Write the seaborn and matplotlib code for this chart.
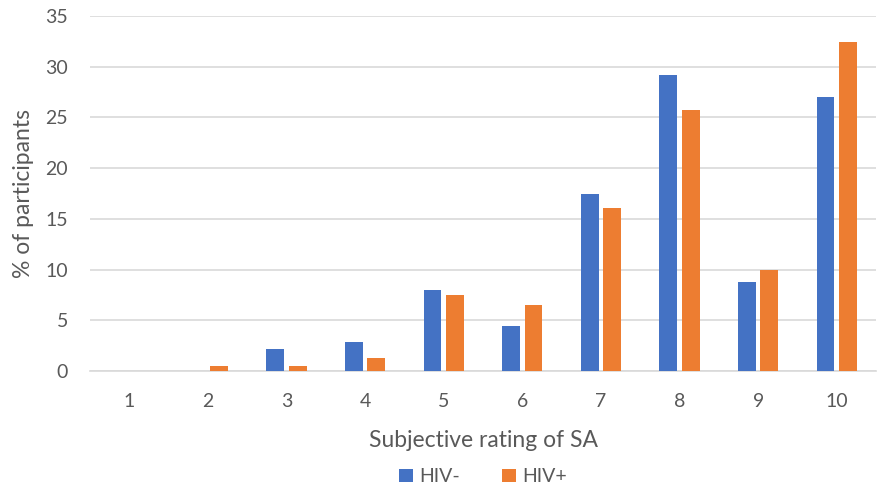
import matplotlib
matplotlib.use("Agg")
import matplotlib.pyplot as plt
import seaborn as sns
import pandas as pd

ratings = [str(i) for i in range(1, 11)]
hiv_neg = [0, 0, 2.2, 2.9, 8.0, 4.4, 17.5, 29.2, 8.8, 27.0]
hiv_pos = [0, 0.5, 0.5, 1.3, 7.5, 6.5, 16.1, 25.7, 10.0, 32.4]
groups = ["HIV-", "HIV+"]
colors = ["#4472C4", "#ED7D31"]

df = pd.DataFrame({
    "rating": ratings * 2,
    "pct": hiv_neg + hiv_pos,
    "group": [groups[0]] * len(ratings) + [groups[1]] * len(ratings),
})

sns.set_style("white")
plt.rcParams["font.family"] = ["Lato", "DejaVu Sans"]
txt = "#595959"

fig = plt.figure(figsize=(8.8, 4.88), dpi=100)
ax = fig.add_axes([0.1023, 0.2398, 0.8932, 0.7272])

sns.barplot(data=df, x="rating", y="pct", hue="group", order=ratings,
            hue_order=groups, palette=colors, width=0.57, gap=0.21,
            saturation=1, linewidth=0, ax=ax, zorder=3)

ax.set_ylim(0, 35)
ax.set_xlim(-0.5, 9.5)
ax.set_yticks(range(0, 36, 5))
ax.yaxis.grid(True, color="#D9D9D9", linewidth=1.2, zorder=0)
ax.set_axisbelow(True)
for s in ["top", "right", "left"]:
    ax.spines[s].set_visible(False)
ax.spines["bottom"].set_color("#D9D9D9")
ax.spines["bottom"].set_linewidth(1.2)
ax.tick_params(axis="both", length=0, labelsize=14, colors=txt)
ax.tick_params(axis="x", pad=16)
ax.tick_params(axis="y", pad=16)

ax.set_xlabel("Subjective rating of SA", fontsize=16.5, color=txt, labelpad=14)
ax.set_ylabel("% of participants", fontsize=16.5, color=txt, labelpad=8)

ax.legend(loc="center", bbox_to_anchor=(0.5, -0.298), ncol=2,
          frameon=False, fontsize=14, handlelength=0.7, handleheight=0.7,
          columnspacing=2.2, handletextpad=0.3, labelcolor=txt,
          borderpad=0, borderaxespad=0)

fig.savefig("out.png", dpi=100)
